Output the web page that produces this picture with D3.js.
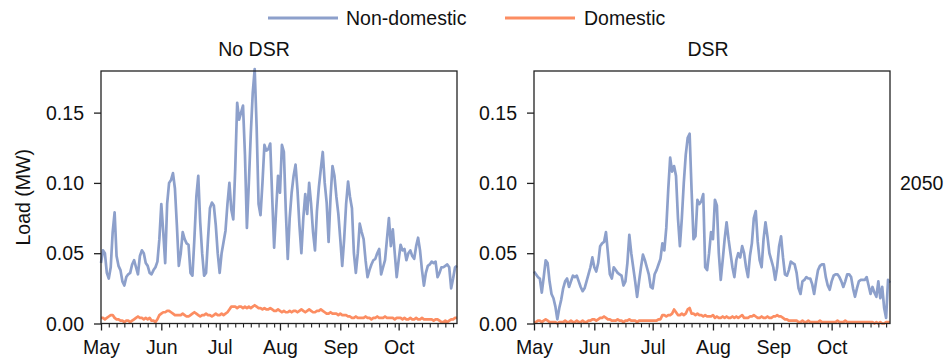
<!DOCTYPE html>
<html><head><meta charset="utf-8">
<script src="https://cdn.jsdelivr.net/npm/d3@7/dist/d3.min.js"></script>
<style>
body{margin:0;background:#fff;}
svg text{font-family:"Liberation Sans",Arial,sans-serif;fill:#111;}
</style></head>
<body><svg id="chart" width="944" height="362"></svg>
<script>
// ---------------- data ----------------
const seriesNames = ["Non-domestic", "Domestic"];
const seriesColors = ["#8da0cb", "#fc8d62"];
const panelTitles = ["No DSR", "DSR"];
const rowLabel = "2050";
const yLabel = "Load (MW)";
const yTickValues = [0, 0.05, 0.10, 0.15];
const monthLabels = ["May", "Jun", "Jul", "Aug", "Sep", "Oct"];

// daily values, 1 May .. 31 Oct
const noDsrNonDomestic = [
0.043,0.052,0.050,0.036,0.032,0.040,0.065,0.079,0.048,0.041,
0.038,0.030,0.027,0.033,0.035,0.036,0.042,0.045,0.040,0.035,
0.048,0.052,0.050,0.043,0.041,0.036,0.035,0.038,0.040,0.044,
0.060,0.085,0.065,0.043,0.085,0.100,0.102,0.107,0.096,0.070,
0.041,0.050,0.065,0.060,0.057,0.056,0.036,0.034,0.060,0.090,
0.105,0.072,0.050,0.034,0.036,0.060,0.082,0.086,0.084,0.070,
0.050,0.036,0.050,0.058,0.066,0.085,0.100,0.081,0.074,0.110,
0.157,0.145,0.150,0.155,0.120,0.068,0.100,0.135,0.164,0.181,
0.140,0.085,0.077,0.100,0.127,0.123,0.124,0.128,0.090,0.054,
0.080,0.105,0.093,0.127,0.122,0.080,0.046,0.075,0.093,0.105,
0.113,0.095,0.070,0.050,0.075,0.092,0.078,0.100,0.085,0.065,
0.052,0.080,0.097,0.110,0.122,0.100,0.086,0.058,0.090,0.112,
0.105,0.090,0.078,0.060,0.041,0.060,0.085,0.101,0.090,0.082,
0.050,0.036,0.050,0.071,0.065,0.060,0.045,0.033,0.038,0.042,
0.045,0.046,0.050,0.053,0.035,0.040,0.045,0.060,0.075,0.055,
0.067,0.050,0.033,0.045,0.056,0.052,0.053,0.045,0.050,0.052,
0.048,0.046,0.055,0.061,0.052,0.038,0.027,0.036,0.041,0.042,
0.044,0.043,0.044,0.033,0.036,0.040,0.040,0.041,0.042,0.040,
0.025,0.032,0.040,0.041];
const noDsrDomestic = [
0.004,0.004,0.003,0.004,0.005,0.006,0.006,0.004,0.003,0.003,
0.002,0.002,0.001,0.002,0.002,0.001,0.002,0.003,0.004,0.005,
0.004,0.004,0.003,0.004,0.003,0.004,0.002,0.002,0.001,0.003,
0.006,0.007,0.008,0.008,0.009,0.009,0.008,0.007,0.006,0.006,
0.006,0.006,0.007,0.006,0.005,0.005,0.006,0.007,0.008,0.007,
0.006,0.005,0.006,0.006,0.007,0.006,0.006,0.005,0.006,0.007,
0.006,0.006,0.007,0.006,0.007,0.008,0.010,0.012,0.012,0.012,
0.011,0.012,0.012,0.011,0.012,0.011,0.012,0.011,0.012,0.013,
0.012,0.011,0.011,0.010,0.011,0.010,0.010,0.011,0.010,0.009,
0.009,0.010,0.009,0.008,0.009,0.008,0.008,0.009,0.008,0.009,
0.009,0.008,0.009,0.010,0.009,0.008,0.009,0.010,0.009,0.008,
0.008,0.009,0.009,0.010,0.009,0.008,0.007,0.007,0.008,0.007,
0.007,0.007,0.006,0.007,0.006,0.006,0.006,0.005,0.005,0.004,
0.004,0.005,0.004,0.004,0.004,0.004,0.005,0.004,0.004,0.003,
0.004,0.004,0.005,0.004,0.004,0.004,0.005,0.004,0.004,0.004,
0.004,0.003,0.004,0.004,0.004,0.003,0.004,0.003,0.003,0.004,
0.003,0.003,0.004,0.003,0.003,0.004,0.003,0.003,0.003,0.003,
0.003,0.002,0.003,0.003,0.002,0.001,0.001,0.002,0.001,0.002,
0.003,0.003,0.004,0.004];
const dsrNonDomestic = [
0.037,0.035,0.033,0.032,0.022,0.033,0.045,0.043,0.030,0.021,
0.018,0.012,0.003,0.011,0.017,0.025,0.030,0.032,0.026,0.030,
0.034,0.033,0.034,0.030,0.026,0.023,0.025,0.030,0.035,0.040,
0.047,0.040,0.037,0.043,0.055,0.057,0.058,0.065,0.050,0.035,
0.032,0.040,0.038,0.036,0.035,0.034,0.027,0.030,0.043,0.063,
0.050,0.040,0.030,0.019,0.030,0.040,0.049,0.045,0.040,0.035,
0.026,0.025,0.035,0.038,0.042,0.046,0.057,0.052,0.068,0.095,
0.118,0.108,0.112,0.105,0.075,0.055,0.075,0.100,0.120,0.132,
0.135,0.095,0.060,0.062,0.088,0.085,0.087,0.092,0.040,0.038,
0.050,0.065,0.060,0.088,0.084,0.050,0.031,0.045,0.060,0.072,
0.060,0.050,0.040,0.033,0.045,0.050,0.047,0.055,0.050,0.040,
0.033,0.048,0.057,0.075,0.080,0.058,0.045,0.040,0.060,0.072,
0.062,0.050,0.045,0.040,0.031,0.040,0.055,0.062,0.047,0.035,
0.034,0.038,0.044,0.043,0.042,0.036,0.025,0.021,0.030,0.031,
0.033,0.032,0.032,0.028,0.021,0.030,0.038,0.041,0.042,0.042,
0.033,0.027,0.024,0.030,0.034,0.035,0.035,0.033,0.030,0.026,
0.030,0.035,0.035,0.033,0.025,0.019,0.025,0.030,0.031,0.031,
0.031,0.033,0.027,0.021,0.026,0.022,0.019,0.030,0.018,0.026,
0.011,0.004,0.031,0.029];
const dsrDomestic = [
0.001,0.001,0.002,0.002,0.001,0.002,0.003,0.002,0.001,0.001,
0.001,0.001,0.000,0.001,0.001,0.001,0.002,0.001,0.001,0.002,
0.001,0.001,0.002,0.001,0.001,0.002,0.001,0.001,0.002,0.002,
0.003,0.003,0.002,0.003,0.004,0.004,0.005,0.004,0.003,0.003,
0.002,0.002,0.002,0.003,0.002,0.002,0.001,0.002,0.002,0.003,
0.002,0.002,0.002,0.001,0.002,0.002,0.002,0.002,0.002,0.002,
0.002,0.002,0.002,0.002,0.003,0.003,0.006,0.006,0.005,0.006,
0.006,0.007,0.010,0.008,0.006,0.006,0.007,0.006,0.007,0.010,
0.011,0.007,0.007,0.006,0.007,0.006,0.006,0.005,0.006,0.005,
0.005,0.005,0.006,0.004,0.005,0.004,0.004,0.005,0.004,0.005,
0.004,0.004,0.005,0.004,0.005,0.004,0.005,0.006,0.004,0.004,
0.004,0.005,0.005,0.006,0.005,0.004,0.004,0.005,0.004,0.004,
0.005,0.004,0.004,0.005,0.005,0.006,0.005,0.005,0.004,0.003,
0.003,0.002,0.002,0.002,0.002,0.002,0.001,0.001,0.002,0.001,
0.001,0.002,0.001,0.001,0.001,0.001,0.001,0.002,0.001,0.001,
0.001,0.001,0.001,0.001,0.001,0.001,0.002,0.001,0.001,0.001,
0.002,0.001,0.001,0.001,0.001,0.001,0.001,0.001,0.001,0.001,
0.001,0.001,0.001,0.001,0.001,0.000,0.001,0.000,0.001,0.000,
0.000,0.001,0.001,0.001];

const dates = d3.utcDay.range(Date.UTC(2050, 4, 1), Date.UTC(2050, 10, 1));
const panels = [
  {title: panelTitles[0], series: [noDsrNonDomestic, noDsrDomestic], titleX: 254},
  {title: panelTitles[1], series: [dsrNonDomestic, dsrDomestic], titleX: 708}
];

// ---------------- layout ----------------
const svg = d3.select("#chart");
const pTop = 71, pBottom = 323.5, pw = 356;
const lefts = [101, 534];
const SX = 0.93, FS = 21;

const x = d3.scaleUtc().domain([dates[0], dates[dates.length - 1]]).range([0, pw]);
const y = d3.scaleLinear().domain([0, 0.1796]).range([pBottom - pTop, 0]);

const majorTicks = d3.utcMonth.range(dates[0], Date.UTC(2050, 10, 1));
const minorTicks = dates.filter(d => [5, 9, 13, 17, 21, 25, 29].includes(d.getUTCDate()));

panels.forEach((p, i) => {
  const g = svg.append("g").attr("transform", `translate(${lefts[i]},${pTop})`);
  const line = d3.line().x((d, k) => x(dates[k])).y(d => y(d));
  p.series.forEach((s, j) => {
    g.append("path").datum(s).attr("d", line)
      .attr("fill", "none").attr("stroke", seriesColors[j])
      .attr("stroke-width", 2.7).attr("stroke-linejoin", "round");
  });
  g.append("rect").attr("x", 0).attr("y", 0).attr("width", pw).attr("height", pBottom - pTop)
    .attr("fill", "none").attr("stroke", "#222").attr("stroke-width", 1.3);

  // y axis
  const ya = g.append("g").call(d3.axisLeft(y).tickValues(yTickValues).tickFormat(d3.format(".2f")).tickSize(7));
  ya.select(".domain").remove();
  ya.selectAll("line").attr("stroke", "#222").attr("stroke-width", 1.3);
  ya.selectAll("text").attr("font-size", FS).attr("x", -17 / SX)
    .attr("transform", `scale(${SX},1)`).attr("fill", "#111");

  // x axis (major)
  const xa = g.append("g").attr("transform", `translate(0,${pBottom - pTop})`)
    .call(d3.axisBottom(x).tickValues(majorTicks).tickFormat((d, k) => monthLabels[k]).tickSize(7));
  xa.select(".domain").remove();
  xa.selectAll("line").attr("stroke", "#222").attr("stroke-width", 1.3);
  xa.selectAll("text").attr("font-size", FS).attr("y", 16)
    .attr("transform", `scale(${SX},1)`).attr("fill", "#111");
  // x axis (minor)
  const xm = g.append("g").attr("transform", `translate(0,${pBottom - pTop})`)
    .call(d3.axisBottom(x).tickValues(minorTicks).tickFormat("").tickSize(4));
  xm.select(".domain").remove();
  xm.selectAll("line").attr("stroke", "#222").attr("stroke-width", 1.1);

  // title
  svg.append("text").attr("transform", `translate(${p.titleX},${pTop - 15}) scale(${SX},1)`)
    .attr("text-anchor", "middle").attr("font-size", FS).text(p.title);
});

// y label
svg.append("text").attr("transform", `translate(30,${(pTop + pBottom) / 2}) rotate(-90) scale(${SX},1)`)
  .attr("text-anchor", "middle").attr("font-size", FS).text(yLabel);
// row label
svg.append("text").attr("transform", `translate(900,183) scale(${SX},1)`)
  .attr("dominant-baseline", "central").attr("font-size", FS).text(rowLabel);

// legend
const legendItems = [{x: 268, tx: 346}, {x: 505, tx: 584}];
legendItems.forEach((l, j) => {
  svg.append("line").attr("x1", l.x).attr("x2", l.x + 70).attr("y1", 18).attr("y2", 18)
    .attr("stroke", seriesColors[j]).attr("stroke-width", 3.2);
  svg.append("text").attr("transform", `translate(${l.tx},18) scale(${SX},1)`)
    .attr("dominant-baseline", "central").attr("font-size", FS).text(seriesNames[j]);
});
</script></body></html>
